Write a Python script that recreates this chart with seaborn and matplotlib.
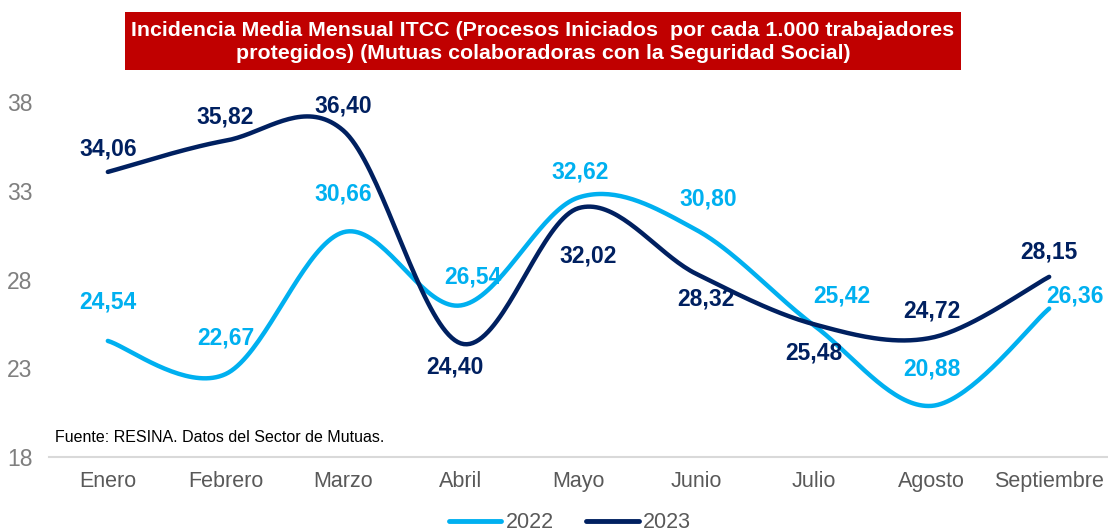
import numpy as np
import pandas as pd
import seaborn as sns
import matplotlib
matplotlib.use("Agg")
import matplotlib.pyplot as plt
from matplotlib.patches import Rectangle
from matplotlib.lines import Line2D

sns.set_theme(style="white")
plt.rcParams['font.family'] = ['Liberation Sans', 'DejaVu Sans']

months = ["Enero", "Febrero", "Marzo", "Abril", "Mayo", "Junio", "Julio", "Agosto", "Septiembre"]
v2022 = [24.54, 22.67, 30.66, 26.54, 32.62, 30.80, 25.42, 20.88, 26.36]
v2023 = [34.06, 35.82, 36.40, 24.40, 32.02, 28.32, 25.48, 24.72, 28.15]
yticks = [18, 23, 28, 33, 38]

title = ("Incidencia Media Mensual ITCC (Procesos Iniciados  por cada 1.000 trabajadores\n"
         "protegidos) (Mutuas colaboradoras con la Seguridad Social)")
source = "Fuente: RESINA. Datos del Sector de Mutuas."

c22 = "#00B0F0"
c23 = "#002060"

# label offsets in pixels (style only)
off22 = [(0, 39), (0, 36), (0, 38), (12, 28), (2, 25), (12, 31), (28, 29), (0, 37), (26, 13)]
off23 = [(0, 23), (0, 24), (0, 24), (-6, -24), (10, -48), (10, -25), (0, -29), (0, 27), (0, 25)]


def smooth(xs, ys, n=40):
    """Excel-like smoothed line drawn through the data points (cubic Bezier)."""
    xs = np.asarray(xs, float)
    ys = np.asarray(ys, float)
    px = np.concatenate([[xs[0]], xs, [xs[-1]]])
    py = np.concatenate([[ys[0]], ys, [ys[-1]]])
    ox, oy = [], []
    t = np.linspace(0, 1, n)
    for i in range(1, len(px) - 2):
        p0 = np.array([px[i], py[i]])
        p3 = np.array([px[i + 1], py[i + 1]])
        p1 = p0 + (np.array([px[i + 1], py[i + 1]]) - np.array([px[i - 1], py[i - 1]])) / 6
        p2 = p3 - (np.array([px[i + 2], py[i + 2]]) - np.array([px[i], py[i]])) / 6
        b = ((1 - t) ** 3)[:, None] * p0 + (3 * (1 - t) ** 2 * t)[:, None] * p1 \
            + (3 * (1 - t) * t ** 2)[:, None] * p2 + (t ** 3)[:, None] * p3
        ox.extend(b[:, 0]); oy.extend(b[:, 1])
    return np.array(ox), np.array(oy)


W, H = 1108, 532
fig = plt.figure(figsize=(W / 100, H / 100), dpi=100)
ax = fig.add_axes([49 / W, 1 - 457 / H, 1 - 49 / W, (457 - 102) / H])

xpos = np.arange(len(months))
frames = []
for lab, vals in (("2022", v2022), ("2023", v2023)):
    sx, sy = smooth(xpos, vals)
    frames.append(pd.DataFrame({"x": sx, "y": sy, "serie": lab}))
df = pd.concat(frames, ignore_index=True)

sns.lineplot(data=df, x="x", y="y", hue="serie", palette={"2022": c22, "2023": c23},
             linewidth=3.2, sort=False, estimator=None, ax=ax, legend=False,
             solid_capstyle="round")

for vals, offs, col in ((v2022, off22, c22), (v2023, off23, c23)):
    for i, v in enumerate(vals):
        ax.annotate(f"{v:.2f}".replace(".", ","), (i, v), xytext=offs[i],
                    textcoords="offset pixels", ha="center", va="center",
                    fontsize=16.5, fontweight="bold", color=col)

ax.set_xlim(-0.5, len(months) - 0.5)
ax.set_ylim(18, 38)
ax.set_yticks(yticks)
ax.set_yticklabels([str(t) for t in yticks], fontsize=16.5, color="#7F7F7F")
ax.set_xticks(xpos)
ax.set_xticklabels(months, fontsize=15.5, color="#595959")
ax.set_xticks(np.arange(len(months) + 1) - 0.5, minor=True)
ax.tick_params(axis="x", which="major", length=0, pad=10)
ax.tick_params(axis="x", which="minor", length=5, color="#D9D9D9", width=1.2, direction="out")
ax.tick_params(axis="y", length=0, pad=12)
ax.set_xlabel("")
ax.set_ylabel("")
for s in ("top", "right", "left"):
    ax.spines[s].set_visible(False)
ax.spines["bottom"].set_color("#D9D9D9")
ax.spines["bottom"].set_linewidth(1.5)
ax.patch.set_alpha(0)

fig.text(55 / W, 1 - 438 / H, source, fontsize=11.5, color="black", ha="left", va="center")

fig.add_artist(Rectangle((125 / W, 1 - 70 / H), (961 - 125) / W, 58 / H,
                         transform=fig.transFigure, facecolor="#C00000", edgecolor="none"))
fig.text((125 + 961) / 2 / W, 1 - 42 / H, title, ha="center", va="center",
         fontsize=15.4, fontweight="bold", color="white", linespacing=1.3)

handles = [Line2D([0], [0], color=c22, lw=3.5, solid_capstyle="round"),
           Line2D([0], [0], color=c23, lw=3.5, solid_capstyle="round")]
fig.legend(handles, ["2022", "2023"], loc="center", bbox_to_anchor=(570 / W, 1 - 523 / H),
           ncol=2, frameon=False, fontsize=15.5, labelcolor="#595959",
           handlelength=2.45, handletextpad=0.2, columnspacing=1.5)

fig.savefig("out.png", dpi=100)
